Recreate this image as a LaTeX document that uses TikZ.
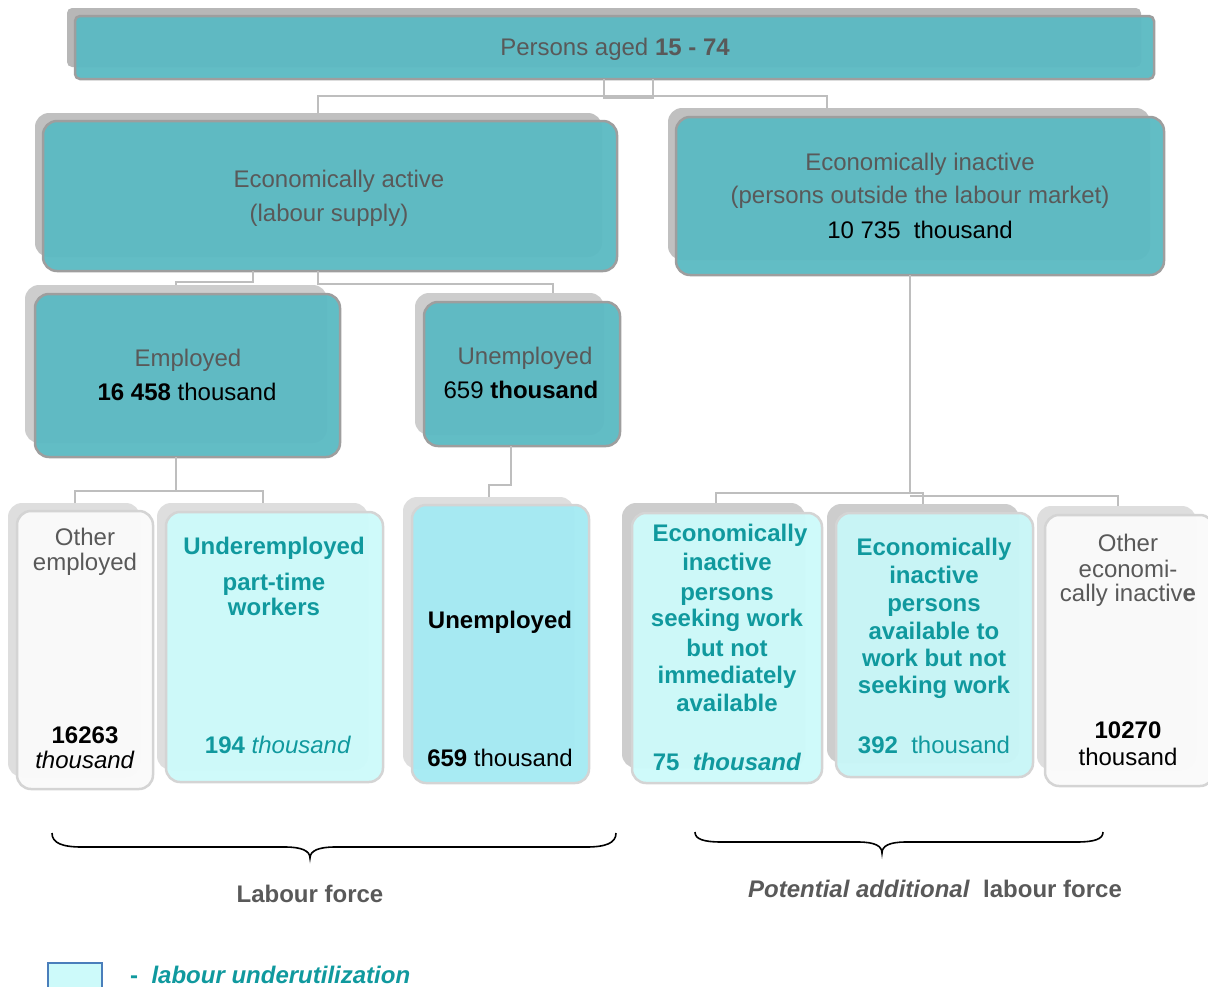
\documentclass[tikz,border=0pt]{standalone}
\usepackage{fontspec}
\setmainfont{Liberation Sans}
\usetikzlibrary{fit}
\definecolor{tealfill}{RGB}{92,186,195}
\definecolor{shadowA}{RGB}{183,183,183}
\definecolor{shadowB}{RGB}{192,192,192}
\definecolor{shadowC}{RGB}{205,205,205}
\definecolor{shadowD}{RGB}{222,222,222}
\definecolor{borderdark}{RGB}{158,158,158}
\definecolor{borderlight}{RGB}{212,212,212}
\definecolor{textgray}{RGB}{89,89,89}
\definecolor{tealtext}{RGB}{16,153,158}
\definecolor{cyanA}{RGB}{205,250,250}
\definecolor{cyanB}{RGB}{200,246,247}
\definecolor{cyanU}{RGB}{165,234,243}
\definecolor{offwhite}{RGB}{250,250,250}
\definecolor{connc}{RGB}{190,190,190}
\definecolor{legendblue}{RGB}{74,126,187}
\newcommand\mkbox[6]{\node[#2, fit={(#3,#4) (#5,#6)}, inner sep=0pt, outer sep=0pt] (#1) {};}
\newcommand\tline[4]{\node[#1] (#2) at (#3) {#4};}
\begin{document}
\begin{tikzpicture}[x=1pt,y=-1pt,
  shd/.style={fill=#1, draw=none, rounded corners=14pt},
  frontteal/.style={fill=tealfill, fill opacity=0.96, draw=borderdark, line width=2.5pt, rounded corners=14pt},
  frontlight/.style={fill=#1, fill opacity=0.97, draw=borderlight, line width=2.5pt, rounded corners=14pt},
  conn/.style={draw=connc, line width=2pt},
  base/.style={anchor=base, inner sep=0pt, font=\fontsize{24}{28}\selectfont},
  gtx/.style={base, text=textgray},
  ktx/.style={base, text=black},
  ttx/.style={base, text=tealtext, font=\fontsize{24}{28}\selectfont\bfseries},
  brace/.style={draw=black, line width=1.6pt}
]
\useasboundingbox (0,0) rectangle (1208,986);

% ---- boxes ----
\mkbox{tops}{shd=shadowA, rounded corners=5pt}{67}{8}{1141}{67}
\mkbox{top}{frontteal, rounded corners=5pt}{75}{16}{1154}{79}

\mkbox{eas}{shd=shadowB}{35}{113}{602}{257}
\mkbox{ea}{frontteal}{43}{121}{617}{271}
\mkbox{eis}{shd=shadowB}{668}{108}{1150}{260}
\mkbox{ei}{frontteal}{676}{117}{1164}{275}

\mkbox{ems}{shd=shadowC}{25}{285}{327}{443}
\mkbox{em}{frontteal}{35}{294}{340}{457}
\mkbox{ues}{shd=shadowC}{415}{293}{604}{435}
\mkbox{ue}{frontteal}{424}{302}{620}{446}

\mkbox{oes}{shd=shadowD}{8}{503}{140}{777}
\mkbox{oe}{frontlight=offwhite}{17}{511}{153}{789}
\mkbox{uds}{shd=shadowD}{157}{503}{368}{770}
\mkbox{ud}{frontlight=cyanA}{166}{512}{383}{782}
\mkbox{ubs}{shd=shadowD}{403}{497}{574}{769}
\mkbox{ub}{frontlight=cyanU}{412}{505}{589}{783}
\mkbox{as}{shd=shadowC}{622}{503}{805}{768}
\mkbox{a}{frontlight=cyanA}{632}{513}{822}{783}
\mkbox{bs}{shd=shadowC}{827}{504}{1019}{763}
\mkbox{b}{frontlight=cyanB}{836}{513}{1033}{777}
\mkbox{cs}{shd=shadowD}{1037}{506}{1196}{770}
\mkbox{c}{frontlight=offwhite}{1045}{515}{1214}{786}

% ---- connectors ----
\draw[conn] (top.south -| 604,0) -- (604,98) -- (653,98) -- (top.south -| 653,0);
\draw[conn] (eas.north -| 318,0) -- (318,96) -- (827,96) -- (eis.north -| 827,0);
\draw[conn] (ea.south -| 253,0) -- (253,282) -- (176,282) -- (ems.north -| 176,0);
\draw[conn] (ea.south -| 318,0) -- (318,284) -- (553,284) -- (ues.north -| 553,0);
\draw[conn] (em.south -| 176,0) -- (176,491);
\draw[conn] (oes.north -| 75,0) -- (75,491) -- (263,491) -- (uds.north -| 263,0);
\draw[conn] (ue.south -| 511,0) -- (511,485) -- (489,485) -- (ubs.north -| 489,0);
\draw[conn] (ei.south -| 910,0) -- (910,494);
\draw[conn] (as.north -| 716,0) -- (716,493) -- (923,493) -- (bs.north -| 923,0);
\draw[conn] (910,496) -- (1118,496) -- (cs.north -| 1118,0);

% ---- texts ----
\tline{gtx}{t0}{615,55}{Persons aged \textbf{15 - 74}}
\tline{gtx}{t1}{339,187}{Economically active}
\tline{gtx}{t2}{329,221}{(labour supply)}
\tline{gtx}{t3}{920,170}{Economically inactive}
\tline{gtx}{t4}{920,203}{(persons outside the labour market)}
\tline{ktx}{t5}{920,238}{10 735~~thousand}
\tline{gtx}{t6}{188,366}{Employed}
\tline{ktx}{t7}{187,400}{\textbf{16 458} thousand}
\tline{gtx}{t8}{525,364}{Unemployed}
\tline{ktx}{t9}{521,398}{659 \textbf{thousand}}

\tline{gtx}{oe1}{85,545}{Other}
\tline{gtx}{oe2}{85,570}{employed}
\tline{ktx}{oe3}{85,743}{\textbf{16263}}
\tline{ktx}{oe4}{85,768}{\textit{thousand}}

\tline{ttx}{ud1}{274,554}{Underemployed}
\tline{ttx}{ud2}{274,590}{part-time}
\tline{ttx}{ud3}{274,615}{workers}
\tline{gtx, text=tealtext}{ud4}{278,753}{\textbf{194} \textit{thousand}}

\tline{ktx}{ub1}{500,628}{\textbf{Unemployed}}
\tline{ktx}{ub2}{500,766}{\textbf{659} thousand}

\tline{ttx}{a1}{730,541}{Economically}
\tline{ttx}{a2}{727,570}{inactive}
\tline{ttx}{a3}{727,600}{persons}
\tline{ttx}{a4}{727,626}{seeking work}
\tline{ttx}{a5}{727,656}{but not}
\tline{ttx}{a6}{727,683}{immediately}
\tline{ttx}{a7}{727,711}{available}
\tline{ttx}{a8}{727,770}{75~~\textit{thousand}}

\tline{ttx}{b1}{934,555}{Economically}
\tline{ttx}{b2}{934,583}{inactive}
\tline{ttx}{b3}{934,611}{persons}
\tline{ttx}{b4}{934,639}{available to}
\tline{ttx}{b5}{934,666}{work but not}
\tline{ttx}{b6}{934,693}{seeking work}
\tline{gtx, text=tealtext}{b7}{934,753}{\textbf{392}~~thousand}

\tline{gtx}{c1}{1128,551}{Other}
\tline{gtx}{c2}{1128,577}{economi-}
\tline{gtx}{c3}{1128,601}{cally inactiv\textbf{e}}
\tline{ktx}{c4}{1128,738}{\textbf{10270}}
\tline{ktx}{c5}{1128,765}{thousand}

% ---- braces ----
\draw[brace] (52,833) .. controls (52,843) and (62,847) .. (82,847) -- (285,847)
  .. controls (302,847) and (310,851) .. (310,858)
  .. controls (310,851) and (318,847) .. (335,847) -- (586,847)
  .. controls (606,847) and (616,843) .. (616,833);
\draw[brace] (695,832) .. controls (695,839) and (703,842) .. (722,842) -- (858,842)
  .. controls (875,842) and (882,846) .. (882,853)
  .. controls (882,846) and (889,842) .. (906,842) -- (1076,842)
  .. controls (1095,842) and (1103,839) .. (1103,832);

\tline{gtx}{lf}{310,902}{\textbf{Labour force}}
\tline{gtx}{plf}{935,897}{\textbf{\textit{Potential additional}~~labour force}}

% ---- legend ----
\mkbox{leg}{fill=cyanA, draw=legendblue, line width=2pt}{48}{963}{102}{996}
\node[ttx, anchor=base west] (legt) at (130,983) {-~~\textit{labour underutilization}};
\end{tikzpicture}
\end{document}
